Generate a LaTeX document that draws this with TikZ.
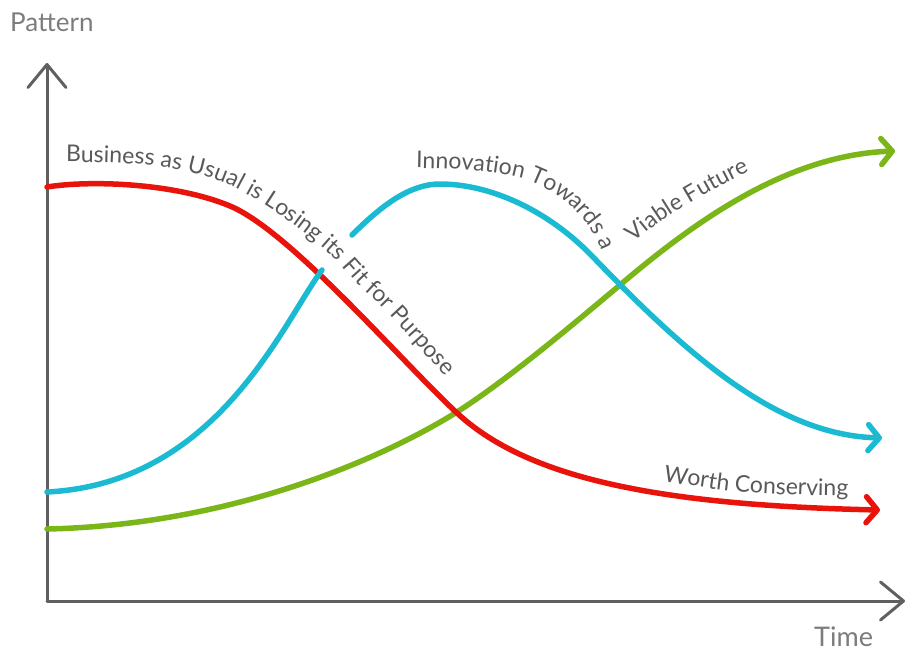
\documentclass[tikz,border=0pt]{standalone}
\usepackage{fontspec}
\setmainfont{Lato}
\usetikzlibrary{arrows.meta,decorations.text}
\definecolor{cred}{HTML}{E8140C}
\definecolor{ccyan}{HTML}{1BBAD3}
\definecolor{cgreen}{HTML}{7AB617}
\definecolor{axisgray}{HTML}{606060}
\definecolor{txtgray}{HTML}{595959}
\definecolor{lblgray}{HTML}{7C7C7C}
\tikzset{
  axisline/.style={draw=axisgray, line width=3pt, line cap=round, line join=round,
    -{Straight Barb[length=23pt,width=38pt,round]}},
  curveline/.style={line width=5.5pt, line cap=round,
    -{Straight Barb[length=11pt,width=26pt,round]}},
  plainline/.style={line width=5.5pt, line cap=round},
  axislabel/.style={inner sep=0pt, anchor=base west, text=lblgray, font=\fontsize{26}{30}\selectfont},
  curvetext/.style={decorate, decoration={text along path, text align=left,
    text={|\fontsize{23}{26}\selectfont\color{txtgray}|#1}}}
}
\begin{document}
\begin{tikzpicture}[x=1pt,y=-1pt]
\path[use as bounding box] (0,0) rectangle (907,653);

% axes
\coordinate (O) at (47,601);
\coordinate (Ytip) at (47,63);
\coordinate (Xtip) at (905,601);
\draw[axisline] (O) -- (Ytip);
\draw[axisline] (O) -- (Xtip);
\node[axislabel] (ylab) at (10,31) {Pattern};
\node[axislabel, font=\fontsize{27}{30}\selectfont] (xlab) at (814,646) {Time};

% green curve
\draw[curveline, draw=cgreen] (47,529)
  .. controls (230,525) and (380,460) .. (457,412)
  .. controls (507,380) and (570,327) .. (620,285)
  .. controls (700,217) and (790,155) .. (895,151);

% red curve
\draw[curveline, draw=cred] (47,187)
  .. controls (90,180) and (175,183) .. (230,206)
  .. controls (290,231) and (400,360) .. (457,413)
  .. controls (525,476) and (650,505) .. (880,510);

% cyan curve, lower part
\draw[plainline, draw=ccyan] (47,492)
  .. controls (217,483.5) and (282,324) .. (322,270);
% cyan curve, upper part
\draw[curveline, draw=ccyan] (352,235)
  .. controls (382,205) and (410,184) .. (440,184)
  .. controls (490,184) and (548,210) .. (593,257)
  .. controls (693,361) and (780,435) .. (882,438);

% texts along curves
\path[curvetext={Business as Usual is Losing its Fit for Purpose}]
  plot[smooth, tension=0.6] coordinates {
  (66,162) (120,163) (170,168) (215,179) (250,196) (280,215) (310,237)
  (335,259) (358,284) (380,305) (400,326) (420,348) (442,373) (465,400) (485,425)};
\path[curvetext={Innovation Towards a}]
  plot[smooth, tension=0.6] coordinates {
  (416,168) (450,169) (485,172) (520,178) (545,188) (565,201) (583,219) (596,238) (604,256) (610,274)};
\path[curvetext={Viable Future}]
  plot[smooth, tension=0.6] coordinates {
  (634,243) (660,222) (690,203) (720,186) (750,171) (780,158) (820,146)};
\path[curvetext={Worth Conserving}]
  plot[smooth, tension=0.6] coordinates {
  (663,481) (700,487) (740,492) (800,495) (850,496) (905,497)};
\end{tikzpicture}
\end{document}
